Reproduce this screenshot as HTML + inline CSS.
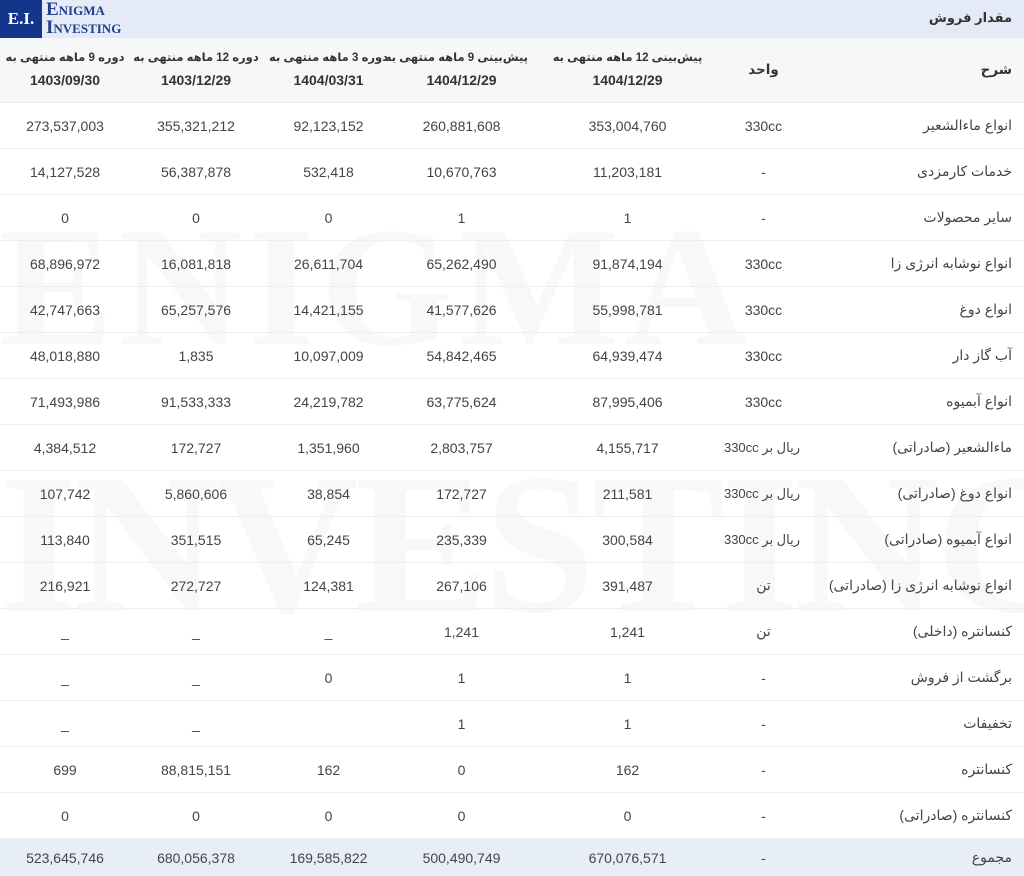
<!DOCTYPE html>
<html><head><meta charset="utf-8">
<style>
body{margin:0;width:1024px;height:876px;overflow:hidden;background:#fff;font-family:"Liberation Sans","DejaVu Sans",sans-serif;color:#333;position:relative}
.top{position:absolute;left:0;top:0;width:1024px;height:38px;background:#e4ebf6}
.title{position:absolute;right:12px;top:10px;font-size:13px;font-weight:bold;color:#333;direction:rtl}
.logo{position:absolute;left:0;top:0;width:42px;height:38px;background:#14358a;color:#fff;font-family:"Liberation Serif",serif;font-weight:bold;font-size:17px;line-height:38px;text-align:center}
.logot{position:absolute;left:46px;top:1px;font-family:"Liberation Serif",serif;font-weight:bold;color:#1f3f8f;font-size:19px;line-height:18px;font-variant:small-caps}
.wm{position:absolute;left:0;font-family:"Liberation Serif",serif;color:#f8f8f8;font-weight:bold;white-space:nowrap;z-index:0}
table{position:absolute;left:0;top:38px;border-collapse:collapse;width:1024px;z-index:1;table-layout:fixed}
td,th{text-align:center;font-size:14px;padding:0;border-bottom:1px solid #eceef1;white-space:nowrap;overflow:visible}
th{height:64px;background:#f6f7f9;font-weight:bold;font-size:11.5px;line-height:22px;color:#333;direction:rtl}
th span{font-size:14px}
td{height:45px;color:#444}
td.d,th.d{text-align:right;padding-right:12px;direction:rtl}
th.d,th.u{font-size:13.5px}
tr.tot td{background:#e8eef8;height:37px;border:none}
</style></head><body>
<div class="top"></div>
<div class="logo">E.I.</div>
<div class="logot">Enigma<br>Investing</div>
<div class="title">مقدار فروش</div>
<div class="wm" style="top:190px;font-size:170px;letter-spacing:6px">ENIGMA</div>
<div class="wm" style="top:430px;font-size:200px;letter-spacing:-4px">INVESTING</div>
<table>
<colgroup><col style="width:130px"><col style="width:132px"><col style="width:133px"><col style="width:133px"><col style="width:199px"><col style="width:73px"><col style="width:224px"></colgroup>
<thead><tr>
<th>دوره 9 ماهه منتهی به<br><span>1403/09/30</span></th>
<th>دوره 12 ماهه منتهی به<br><span>1403/12/29</span></th>
<th>دوره 3 ماهه منتهی به<br><span>1404/03/31</span></th>
<th>پیش‌بینی 9 ماهه منتهی به<br><span>1404/12/29</span></th>
<th>پیش‌بینی 12 ماهه منتهی به<br><span>1404/12/29</span></th>
<th class="u">واحد</th>
<th class="d">شرح</th></tr></thead>
<tbody id="tb"></tbody></table>
<script>
const names=["انواع ماءالشعیر","خدمات کارمزدی","سایر محصولات","انواع نوشابه انرژی زا","انواع دوغ","آب گاز دار","انواع آبمیوه","ماءالشعیر (صادراتی)","انواع دوغ (صادراتی)","انواع آبمیوه (صادراتی)","انواع نوشابه انرژی زا (صادراتی)","کنسانتره (داخلی)","برگشت از فروش","تخفیفات","کنسانتره","کنسانتره (صادراتی)","مجموع"];
const units=["330cc","-","-","330cc","330cc","330cc","330cc","ریال بر 330cc","ریال بر 330cc","ریال بر 330cc","تن","تن","-","-","-","-","-"];
const f12=["353,004,760","11,203,181","1","91,874,194","55,998,781","64,939,474","87,995,406","4,155,717","211,581","300,584","391,487","1,241","1","1","162","0","670,076,571"];
const f9=["260,881,608","10,670,763","1","65,262,490","41,577,626","54,842,465","63,775,624","2,803,757","172,727","235,339","267,106","1,241","1","1","0","0","500,490,749"];
const p3=["92,123,152","532,418","0","26,611,704","14,421,155","10,097,009","24,219,782","1,351,960","38,854","65,245","124,381","_","0","","162","0","169,585,822"];
const p12=["355,321,212","56,387,878","0","16,081,818","65,257,576","1,835","91,533,333","172,727","5,860,606","351,515","272,727","_","_","_","88,815,151","0","680,056,378"];
const p9=["273,537,003","14,127,528","0","68,896,972","42,747,663","48,018,880","71,493,986","4,384,512","107,742","113,840","216,921","_","_","_","699","0","523,645,746"];
const tb=document.getElementById('tb');
names.forEach((n,i)=>{
  const tr=document.createElement('tr');
  
  
  if(i===names.length-1)tr.className='tot';
  [p9[i],p12[i],p3[i],f9[i],f12[i],units[i],n].forEach((v,j)=>{
    const td=document.createElement('td');
    
    
    if(j===6)td.className='d';
    if(j===5&&v.indexOf('ریال')>=0){td.style.direction='rtl';td.style.fontSize='13px';}
    td.textContent=v;tr.appendChild(td);
  });
  tb.appendChild(tr);
});
</script>
</body></html>
